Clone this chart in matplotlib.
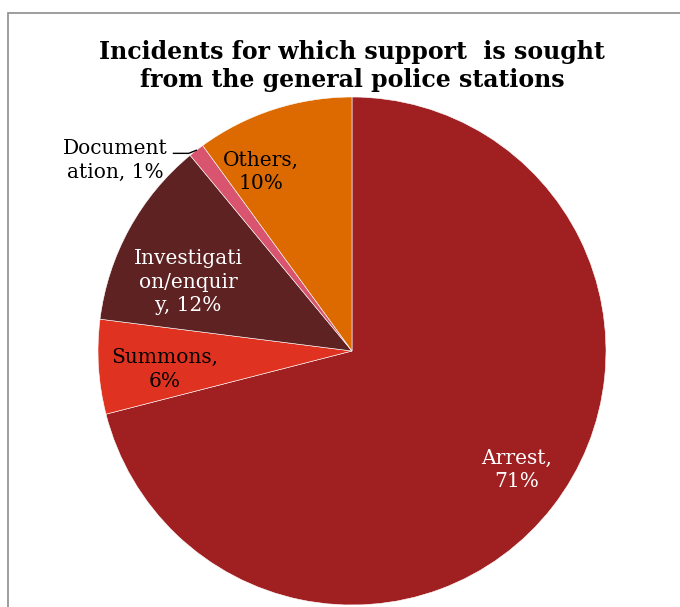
import numpy as np
import matplotlib.pyplot as plt
from matplotlib.patches import Rectangle

# slices, clockwise from 12 o'clock
labels = ["Arrest", "Summons", "Investigati\non/enquir\ny", "Document\nation", "Others"]
values = [71, 6, 12, 1, 10]
colors = ["#A01F21", "#E03220", "#5E2222", "#D9546E", "#DD6A00"]
text_colors = ["white", "black", "white", "black", "black"]
title = "Incidents for which support  is sought\nfrom the general police stations"

plt.rcParams['font.family'] = ['DejaVu Serif']

fig = plt.figure(figsize=(6.8, 6.07), dpi=100)
W, H = 680, 607

# frame around the chart area
fig.patches.append(Rectangle((8 / W, -0.1), 1.0, (607 - 13) / H + 0.1,
                             transform=fig.transFigure, fill=False,
                             edgecolor="#8c8c8c", linewidth=1.2))

ax = fig.add_axes([98 / W, 2 / H, 508 / W, 508 / H])
wedges, _ = ax.pie(values, colors=colors, startangle=90, counterclock=False,
                   radius=1.0, wedgeprops=dict(edgecolor="white", linewidth=0.4))
ax.set_xlim(-1, 1)
ax.set_ylim(-1, 1)
ax.set_aspect("equal")
ax.axis("off")

fs = 14.5
# label placement: (radius factor, angle shift in degrees)
place = [(0.80, 2), (0.74, 2), (0.70, 6), (1.0, 0), (0.79, 9)]
for w, lab, v, tc, (r, da) in zip(wedges, labels, values, text_colors, place):
    mid = np.deg2rad((w.theta1 + w.theta2) / 2 + da)
    txt = f"{lab}, {v}%"
    if v == 71 or v == 6 or v == 10:
        txt = f"{lab},\n{v}%"
    if v == 1:
        # outside label with leader line
        ex, ey = np.cos(mid), np.sin(mid)
        ax.plot([ex, ex - 0.03, ex - 0.09], [ey, ey - 0.012, ey - 0.012],
                color="black", lw=1)
        ax.text(ex - 0.32, ey - 0.04, txt, ha="center", va="center",
                fontsize=fs, color=tc, linespacing=1.3)
        continue
    ax.text(r * np.cos(mid), r * np.sin(mid), txt, ha="center", va="center",
            fontsize=fs, color=tc, linespacing=1.3)

fig.text(352 / W, 1 - 66 / H, title, ha="center", va="center",
         fontsize=17, fontweight="bold", linespacing=1.25)

fig.savefig("out.png", dpi=100)
